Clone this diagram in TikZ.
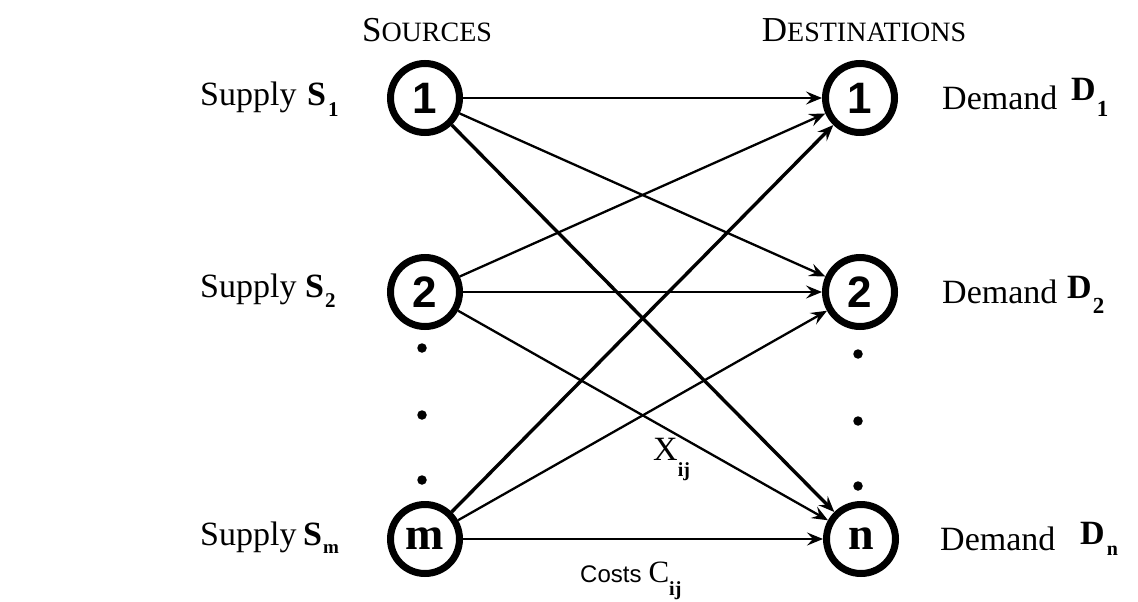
\documentclass[tikz,border=0pt]{standalone}
\usepackage{fontspec}
\setmainfont{Liberation Serif}
\newfontfamily\numfont{Liberation Sans}
\usetikzlibrary{arrows.meta}
\begin{document}
\begin{tikzpicture}[x=1pt,y=-1pt,
  place/.style={circle, draw, line width=7pt, minimum size=69pt, inner sep=0pt},
  flow/.style={line width=2.3pt, -{Stealth[length=16pt,width=13pt,inset=6pt]}},
  heavy/.style={flow, line width=3.4pt},
  lab/.style={anchor=base west, inner sep=0pt, font=\fontsize{34}{36}\selectfont},
  head/.style={anchor=base, inner sep=0pt},
  dotmark/.style={circle, fill, inner sep=0pt, minimum size=9.5pt},
  numtxt/.style={font=\numfont\bfseries\fontsize{44}{44}\selectfont},
  lettxt/.style={font=\bfseries\fontsize{46}{46}\selectfont}]
\useasboundingbox (0,0) rectangle (1138,602);

% headers
\node[head] (hs) at (427,42) {\fontsize{35}{36}\selectfont S\fontsize{28}{30}\selectfont OURCES};
\node[head] (hd) at (864,42) {\fontsize{35}{36}\selectfont D\fontsize{28}{30}\selectfont ESTINATIONS};

% source nodes
\node[place, numtxt] (src1) at (425,98) {1};
\node[place, numtxt] (src2) at (425,292) {2};
\node[place, lettxt] (srcm) at (425,539) {m};
% destination nodes
\node[place, numtxt] (dst1) at (860,98) {1};
\node[place, numtxt] (dst2) at (860,292) {2};
\node[place, lettxt] (dstn) at (861,539) {n};

% dots
\node[dotmark] (ds1) at (422,348) {};
\node[dotmark] (ds2) at (422,415) {};
\node[dotmark] (ds3) at (422,480) {};
\node[dotmark] (dd1) at (858,354) {};
\node[dotmark] (dd2) at (858,421) {};
\node[dotmark] (dd3) at (858,486) {};

% supply labels
\node[lab] (sup1) at (200,105) {Supply};
\node[lab] (sv1) at (307,105) {\bfseries S\hspace{2pt}\raisebox{-11pt}{\fontsize{21}{21}\selectfont 1}};
\node[lab] (sup2) at (200,297) {Supply};
\node[lab] (sv2) at (305,297) {\bfseries S\hspace{1pt}\raisebox{-10pt}{\fontsize{21}{21}\selectfont 2}};
\node[lab] (supm) at (200,545) {Supply};
\node[lab] (svm) at (303,545) {\bfseries S\hspace{1pt}\raisebox{-8pt}{\fontsize{19}{19}\selectfont m}};

% demand labels
\node[lab] (dem1) at (942,110) {Demand};
\node[lab] (dv1) at (1071,100) {\bfseries D\hspace{1pt}\raisebox{-16pt}{\fontsize{23}{23}\selectfont 1}};
\node[lab] (dem2) at (942,303) {Demand};
\node[lab] (dv2) at (1067,298) {\bfseries D\hspace{1pt}\raisebox{-15pt}{\fontsize{23}{23}\selectfont 2}};
\node[lab] (demn) at (940,550) {Demand};
\node[lab] (dvn) at (1080,544) {\bfseries D\hspace{2pt}\raisebox{-11pt}{\fontsize{20}{20}\selectfont n}};

% flows
\draw[flow] (src1) -- (dst1);
\draw[flow] (src1) -- (dst2);
\draw[heavy] (src1) -- (dstn);
\draw[flow] (src2) -- (dst1);
\draw[flow] (src2) -- (dst2);
\draw[flow] (src2) -- (dstn);
\draw[heavy] (srcm) -- (dst1);
\draw[flow] (srcm) -- (dst2);
\draw[flow] (srcm) -- (dstn);

% flow labels
\node[anchor=base west, inner sep=0pt] (xij) at (653,460)
  {\fontsize{34}{36}\selectfont X\raisebox{-16pt}{\bfseries\fontsize{20}{20}\selectfont ij}};
\node[anchor=base west, inner sep=0pt] (cij) at (580,582)
  {{\numfont\fontsize{24}{26}\selectfont Costs}\hspace{7pt}{\fontsize{31}{32}\selectfont C}\raisebox{-13pt}{\bfseries\fontsize{20}{20}\selectfont ij}};
\end{tikzpicture}
\end{document}
